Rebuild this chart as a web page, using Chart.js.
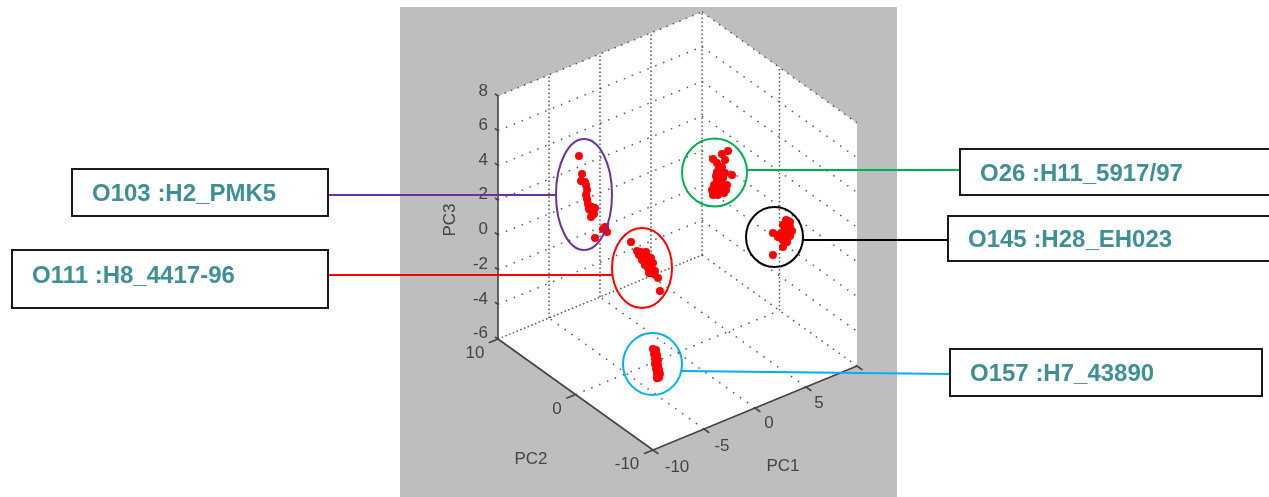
<!DOCTYPE html>
<html>
<head>
<meta charset="utf-8">
<title>PCA scatter</title>
<script src="https://cdn.jsdelivr.net/npm/chart.js@4"></script>
<style>
    html, body { margin: 0; padding: 0; background: #fff; overflow: hidden; }
    canvas { display: block; filter: blur(0.4px); }
</style>
</head>
<body>
<canvas id="pcaChart" width="1269" height="497"></canvas>
<script>
// Scores, one group per serotype
const o103Pc1 = [-5.1, -4.8, -4.9, -4.51, -4.31, -4.41, -4.31, -4.22, -3.82, -3.53, -4.02, -3.73, -3.92, -2.75, -2.35, -2.55, -3.53, -3.63, -4.12, -4.41];
const o103Pc2 = 6;
const o103Pc3 = [4.63, 3.53, 3.15, 2.99, 2.48, 2.22, 1.97, 1.66, 1.39, 1.26, 1.26, 1.08, 0.84, -0.14, -0.41, -0.07, -0.47, 0.94, 1.34, 2.8];

const o111Pc1 = [-3.04, -2.45, -2.25, -1.67, -1.27, -1.96, -1.47, -1.08, -1.67, -1.18, -1.27, -0.78, -0.39, -0.2, -0.88, -2.06, -0.88, -1.96, -0.69, -1.37, -1.57];
const o111Pc2 = 2;
const o111Pc3 = [0.46, -0.2, -0.48, -0.62, -0.83, -0.84, -1.07, -0.94, -1.2, -1.43, -1.75, -1.93, -2.26, -3.05, -1.67, -0.35, -1.27, -0.61, -1.78, -1.44, -0.47];

const o26Pc1 = [4.95, 4.36, 3.48, 4.66, 3.87, 4.36, 3.87, 4.66, 5.34, 3.87, 4.46, 4.85, 3.97, 3.38, 4.36, 3.48, 3.97, 4.56, 4.17, 3.58, 3.97, 3.77, 4.26, 4.75, 3.77, 4.36, 4.07];
const o26Pc2 = 0;
const o26Pc3 = [4.41, 4.38, 4.31, 3.96, 3.98, 3.63, 3.46, 3.21, 2.93, 3.0, 2.97, 2.47, 2.57, 2.54, 2.31, 2.23, 2.11, 2.08, 2.76, 2.78, 3.26, 2.34, 2.56, 2.21, 3.26, 3.17, 3.64];

const o145Pc1 = [7.6, 7.3, 7.99, 8.19, 6.32, 7.01, 7.7, 7.7, 7.3, 6.32, 7.4, 7.5, 7.8, 6.81, 7.99, 7.3, 7.99];
const o145Pc2 = -4;
const o145Pc3 = [1.07, 0.85, 0.57, 0.3, 0.64, 0.41, 0.19, -0.22, -0.41, -0.63, 0.49, 0.06, 0.96, 0.28, 0.86, -0.01, 0.05];

const o157Pc1 = [-3.92, -3.63, -3.82, -3.53, -3.73, -3.43, -3.73, -3.43, -3.63, -3.33, -3.53, -3.24, -3.53, -3.33];
const o157Pc2 = -2;
const o157Pc3 = [-4.21, -4.34, -4.52, -4.65, -4.83, -4.96, -5.12, -5.25, -5.44, -5.56, -5.75, -5.82, -5.99, -5.99];

// Axis ticks
const pc1Ticks = [-10, -5, 0, 5, 10];
const pc2Ticks = [-10, 0, 10];
const pc3Ticks = [-6, -4, -2, 0, 2, 4, 6, 8];

const PC1_MIN = -10, PC1_MAX = 10, PC2_MIN = -10, PC2_MAX = 10, PC3_MIN = -6, PC3_MAX = 8;

// matlab style view: 3d scores down to the flat x/y scales of the chart
function project(pc1, pc2, pc3) {
    const a = pc1 + 10, b = pc2 + 10, c = pc3 + 6;
    return { x: 653 + 10.2 * a - 7.75 * b, y: 450 - 4.2 * a - 5.55 * b - 17.36 * c };
}

function cluster(pc1, pc2, pc3) {
    return pc1.map((v, i) => project(v, pc2, pc3[i]));
}

// several segments in one dataset, null breaks the line
function segments(list) {
    const out = [];
    list.forEach(s => {
        out.push(project(...s[0]), project(...s[1]), { x: null, y: null });
    });
    return out;
}

const wallHorizontals = [];
pc3Ticks.slice(1, 7).forEach(z => {
    wallHorizontals.push([[PC1_MIN, PC2_MAX, z], [PC1_MAX, PC2_MAX, z]]);
    wallHorizontals.push([[PC1_MAX, PC2_MAX, z], [PC1_MAX, PC2_MIN, z]]);
});
const floorLines = [];
pc1Ticks.slice(1, 4).forEach(v => floorLines.push([[v, PC2_MIN, PC3_MIN], [v, PC2_MAX, PC3_MIN]]));
floorLines.push([[PC1_MIN, 0, PC3_MIN], [PC1_MAX, 0, PC3_MIN]]);

const wallVerticals = [];
pc1Ticks.slice(1).forEach(v => wallVerticals.push([[v, PC2_MAX, PC3_MIN], [v, PC2_MAX, PC3_MAX]]));
wallVerticals.push([[PC1_MAX, 0, PC3_MIN], [PC1_MAX, 0, PC3_MAX]]);
wallVerticals.push([[PC1_MIN, PC2_MAX, PC3_MIN], [PC1_MAX, PC2_MAX, PC3_MIN]]);

// outer rim of the box
const rimLines = [
    [[PC1_MIN, PC2_MAX, PC3_MAX], [PC1_MAX, PC2_MAX, PC3_MAX]],
    [[PC1_MAX, PC2_MAX, PC3_MAX], [PC1_MAX, PC2_MIN, PC3_MAX]],
    [[PC1_MAX, PC2_MAX, PC3_MIN], [PC1_MAX, PC2_MIN, PC3_MIN]],
];

const solidEdges = [
    [[PC1_MIN, PC2_MAX, PC3_MIN], [PC1_MIN, PC2_MAX, PC3_MAX]],
    [[PC1_MIN, PC2_MAX, PC3_MIN], [PC1_MIN, PC2_MIN, PC3_MIN]],
    [[PC1_MIN, PC2_MIN, PC3_MIN], [PC1_MAX, PC2_MIN, PC3_MIN]],
];
pc3Ticks.forEach(z => solidEdges.push([[PC1_MIN, PC2_MAX, z], [PC1_MIN, PC2_MAX + 0.4, z]]));
pc2Ticks.forEach(v => solidEdges.push([[PC1_MIN, v, PC3_MIN], [PC1_MIN - 0.9, v, PC3_MIN]]));
pc1Ticks.forEach(v => solidEdges.push([[v, PC2_MIN, PC3_MIN], [v, PC2_MIN - 0.7, PC3_MIN]]));

const boxOutline = [
    project(PC1_MIN, PC2_MAX, PC3_MAX), project(PC1_MAX, PC2_MAX, PC3_MAX),
    project(PC1_MAX, PC2_MIN, PC3_MAX), project(PC1_MAX, PC2_MIN, PC3_MIN),
    project(PC1_MIN, PC2_MIN, PC3_MIN), project(PC1_MIN, PC2_MAX, PC3_MIN),
    project(PC1_MIN, PC2_MAX, PC3_MAX),
];

// Layout of the things around the plot
const panel = { left: 400, top: 7, right: 897, bottom: 497 };
const axisTexts = [
    ['8', 488, 91, 'right'], ['6', 488, 125, 'right'], ['4', 488, 160, 'right'], ['2', 488, 194, 'right'],
    ['0', 488, 229, 'right'], ['-2', 488, 264, 'right'], ['-4', 488, 299, 'right'], ['-6', 488, 333, 'right'],
    ['10', 475, 353, 'center'], ['0', 557, 409, 'center'], ['-10', 627, 464, 'center'],
    ['-10', 677, 467, 'center'], ['-5', 722, 446, 'center'], ['0', 769, 423, 'center'], ['5', 819, 403, 'center'],
    ['PC2', 531, 459, 'center'], ['PC1', 783, 466, 'center'],
];
const callouts = [
    { text: 'O103 :H2_PMK5', box: [72, 169, 328, 216], textX: 92, textY: 194, line: [328, 195, 556, 195], ring: [584, 194.5, 28, 55.5], color: '#7030a0' },
    { text: 'O111 :H8_4417-96', box: [12, 250, 328, 308], textX: 32, textY: 276, line: [328, 275, 612, 275], ring: [642, 268, 30, 40], color: '#ff0000' },
    { text: 'O26 :H11_5917/97', box: [960, 149, 1275, 195], textX: 980, textY: 174, line: [747, 170, 960, 170], ring: [714.5, 172.5, 32.5, 34], color: '#00b050' },
    { text: 'O145 :H28_EH023', box: [948, 216, 1275, 261], textX: 968, textY: 240, line: [803, 240, 948, 240], ring: [774.5, 237, 28.5, 30], color: '#000000' },
    { text: 'O157 :H7_43890', box: [950, 349, 1262, 396], textX: 970, textY: 374, line: [682, 371, 950, 374], ring: [652.5, 364, 29.5, 31], color: '#00b0f0' },
];

const greyPanel = {
    id: 'greyPanel',
    beforeDatasetsDraw(chart) {
        const { ctx, scales: { x, y } } = chart;
        ctx.save();
        ctx.fillStyle = '#bebebe';
        ctx.fillRect(x.getPixelForValue(panel.left), y.getPixelForValue(panel.top),
            x.getPixelForValue(panel.right) - x.getPixelForValue(panel.left),
            y.getPixelForValue(panel.bottom) - y.getPixelForValue(panel.top));
        ctx.restore();
    }
};

const annotations = {
    id: 'annotations',
    afterDatasetsDraw(chart) {
        const { ctx, scales: { x, y } } = chart;
        ctx.save();

        // axis numbers and titles
        ctx.fillStyle = '#444';
        ctx.font = '17px "Liberation Sans"';
        ctx.textBaseline = 'middle';
        axisTexts.forEach(t => {
            ctx.textAlign = t[3];
            ctx.fillText(t[0], x.getPixelForValue(t[1]), y.getPixelForValue(t[2]));
        });
        ctx.save();
        ctx.translate(x.getPixelForValue(450), y.getPixelForValue(220));
        ctx.rotate(-Math.PI / 2);
        ctx.textAlign = 'center';
        ctx.fillText('PC3', 0, 0);
        ctx.restore();

        // rings, leader lines and the label boxes
        callouts.forEach(c => {
            ctx.strokeStyle = c.color;
            ctx.lineWidth = 2;
            ctx.beginPath();
            ctx.ellipse(x.getPixelForValue(c.ring[0]), y.getPixelForValue(c.ring[1]), c.ring[2], c.ring[3], 0, 0, Math.PI * 2);
            ctx.stroke();

            ctx.beginPath();
            ctx.moveTo(x.getPixelForValue(c.line[0]), y.getPixelForValue(c.line[1]));
            ctx.lineTo(x.getPixelForValue(c.line[2]), y.getPixelForValue(c.line[3]));
            ctx.stroke();

            ctx.strokeStyle = '#1a1a1a';
            ctx.strokeRect(c.box[0], c.box[1], c.box[2] - c.box[0], c.box[3] - c.box[1]);

            ctx.fillStyle = '#3f8f96';
            ctx.font = 'bold 24px "Liberation Sans"';
            ctx.textAlign = 'left';
            ctx.fillText(c.text, x.getPixelForValue(c.textX), y.getPixelForValue(c.textY));
        });
        ctx.restore();
    }
};

function lineSet(data, color, width, dash, order) {
    return {
        data: data,
        showLine: true,
        borderColor: color,
        borderWidth: width,
        borderDash: dash,
        pointRadius: 0,
        spanGaps: false,
        order: order,
    };
}

function pointSet(label, data) {
    return {
        label: label,
        data: data,
        showLine: false,
        pointRadius: 4,
        pointBorderWidth: 0,
        pointBackgroundColor: '#ff0000',
        order: 1,
    };
}

new Chart(document.getElementById('pcaChart').getContext('2d'), {
    type: 'scatter',
    data: {
        datasets: [
            { data: boxOutline, showLine: true, fill: 'shape', backgroundColor: '#ffffff', borderWidth: 0, pointRadius: 0, order: 9 },
            lineSet(segments(wallHorizontals), '#555', 1.5, [1.5, 7], 7),
            lineSet(segments(floorLines), '#555', 1.5, [1.5, 7], 6),
            lineSet(segments(wallVerticals), '#555', 1.5, [1.5, 2.5], 5),
            lineSet(segments(rimLines), '#555', 1.5, [1.5, 5.5], 4),
            lineSet(segments(solidEdges), '#444', 1.6, [], 3),
            pointSet('O103', cluster(o103Pc1, o103Pc2, o103Pc3)),
            pointSet('O111', cluster(o111Pc1, o111Pc2, o111Pc3)),
            pointSet('O26', cluster(o26Pc1, o26Pc2, o26Pc3)),
            pointSet('O145', cluster(o145Pc1, o145Pc2, o145Pc3)),
            pointSet('O157', cluster(o157Pc1, o157Pc2, o157Pc3)),
        ]
    },
    options: {
        responsive: false,
        animation: false,
        layout: { padding: 0, autoPadding: false },
        plugins: { legend: { display: false }, tooltip: { enabled: false } },
        scales: {
            x: { type: 'linear', display: false, min: 0, max: 1269 },
            y: { type: 'linear', display: false, min: 0, max: 497, reverse: true },
        }
    },
    plugins: [greyPanel, annotations]
});
</script>
</body>
</html>
